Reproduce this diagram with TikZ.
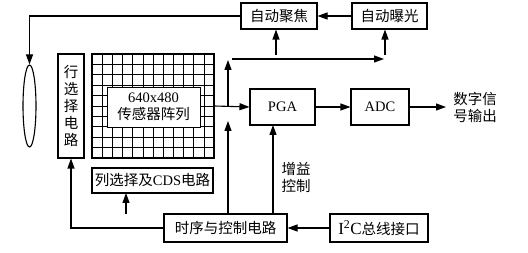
\documentclass[tikz,border=0pt]{standalone}
\usepackage{fontspec}
\setmainfont{Liberation Serif}
\newfontfamily\cjk{Noto Sans CJK SC}
\usetikzlibrary{arrows.meta,shapes.geometric}
\tikzset{
  blk/.style={draw, line width=1.1pt, fill=white, inner sep=0pt, align=center},
  sig/.style={line width=1.1pt, -{Triangle[length=10pt,width=7pt]}},
}
\begin{document}
\begin{tikzpicture}[x=1pt, y=-1pt, font=\fontsize{14.5}{17}\selectfont]
\useasboundingbox (0,0) rectangle (528,253);
% top row: auto focus / auto exposure
\node[blk, minimum width=76, minimum height=26] (focus) at (279,16) {\cjk 自动聚焦};
\node[blk, minimum width=75, minimum height=26] (expo) at (389.5,16) {\cjk 自动曝光};
% lens and row select
\node[draw, line width=1.1pt, ellipse, minimum width=13, minimum height=82, inner sep=0pt] (lens) at (29.5,106) {};
\node[blk, minimum width=26, minimum height=104] (rowsel) at (71,106) {\cjk 行\\\cjk 选\\\cjk 择\\\cjk 电\\\cjk 路};
% sensor array grid
\node[draw, line width=1.1pt, minimum width=122, minimum height=104, inner sep=0pt] (grid) at (153,106) {};
\foreach \i in {1,...,11}
  \draw[line width=0.7pt] (92+\i*10.17,54) -- (92+\i*10.17,158);
\foreach \j in {1,...,9}
  \draw[line width=0.7pt] (92,54+\j*10.4) -- (214,54+\j*10.4);
\node[blk, minimum width=93, minimum height=40, line width=0.7pt] (arr) at (153.5,107) {640x480\\\cjk 传感器阵列};
% signal chain
\node[blk, minimum width=65, minimum height=36] (pga) at (282.5,107) {PGA};
\node[blk, minimum width=58, minimum height=36] (adc) at (380,107) {ADC};
\node[align=left, inner sep=0pt] (out) at (475,107) {\cjk 数字信\\\cjk 号输出};
% bottom row
\node[blk, minimum width=121, minimum height=25] (cds) at (152.5,180.5) {{\cjk 列选择及}CDS{\cjk 电路}};
\node[blk, minimum width=123, minimum height=28] (timing) at (225.5,228) {\cjk 时序与控制电路};
\node[blk, minimum width=98, minimum height=28, font=\fontsize{17}{18}\selectfont] (i2c) at (379,228) {I\textsuperscript{2}C{\fontsize{14.5}{17}\selectfont\cjk 总线接口}};
\node[align=left, inner sep=0pt] (gain) at (296,177) {\cjk 增益\\\cjk 控制};
% connectors
\coordinate (tap) at (228,107);
\coordinate (tapTop) at (228,60);
\coordinate (busL) at (232,59);
\coordinate (busR) at (384,59);
\coordinate (upF) at (276,55);
\coordinate (upE) at (385,55);
\draw[sig] (focus.west) -| (lens.north);
\draw[sig] (expo.west) -- (focus.east);
\draw[sig] (grid.east) -- (pga.west);
\draw[sig] (pga.east) -- (adc.west);
\draw[sig] (adc.east) -- (446,107);
\draw[sig] (tap) -- (tapTop);
\draw[sig] (busL) -- (busR);
\draw[sig] (upF) -- (upF |- focus.south);
\draw[sig] (upE) -- (upE |- expo.south);
\draw[sig] (228,214) -- (228,121);
\draw[sig] (timing.west) -| (rowsel.south);
\draw[sig] (126,214) -- (126,193);
\draw[sig] (273,214) -- (273,125);
\draw[sig] (i2c.west) -- (timing.east);
\end{tikzpicture}
\end{document}
